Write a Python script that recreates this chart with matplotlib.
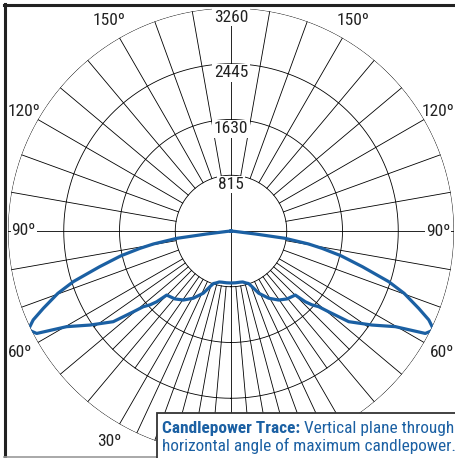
import numpy as np
import matplotlib.pyplot as plt
from matplotlib import font_manager
from matplotlib.patches import Rectangle
from matplotlib.lines import Line2D

# Candlepower trace, left half: vertical angle from nadir (deg) and candela
angles = [0, 5, 10, 13, 16, 18.5, 20.7, 24, 29.3, 34.6, 39.5, 45.1, 46.4, 47.6,
          49.2, 50.4, 52.4, 56.3, 59.8, 62.2, 64, 65.8, 67.6, 70.2, 72.2, 74.8,
          77.3, 79.2, 80.5, 82.3, 83, 84, 85]
candela = [760, 760, 760, 765, 790, 810, 870, 995, 1127, 1226, 1287, 1327, 1500, 1600,
           1694, 1853, 2173, 2478, 2780, 3211, 3298, 3170, 2968, 2690, 2421, 1990,
           1650, 1355, 1150, 800, 360, 60, 0]

rings = [815, 1630, 2445, 3260]
ring_labels = ['815', '1630', '2445', '3260']
angle_ticks = [30, 60, 90, 120, 150]

blue = '#1b60a3'
names = {f.name for f in font_manager.fontManager.ttflist}
narrow = None
for cand in ['Liberation Sans Narrow', 'Roboto Condensed', 'Open Sans Condensed']:
    if cand in names:
        narrow = cand
        break
if narrow:
    plt.rcParams['font.family'] = [narrow, 'DejaVu Sans']
    fs_ang, fs_ring, fs_cap = 12.5, 12.5, 12.4
else:
    plt.rcParams['font.family'] = ['Liberation Sans', 'DejaVu Sans']
    fs_ang, fs_ring, fs_cap = 11, 12, 10.6

fig = plt.figure(figsize=(4.56, 4.58), dpi=100)
ax = fig.add_axes([8/456, 4/458, 446/456, 446/458], projection='polar')
ax.set_theta_zero_location('S')
ax.set_theta_direction(-1)
ax.set_ylim(0, rings[-1])
ax.axis('off')

# grid circles
th = np.radians(np.linspace(0, 360, 721))
for r in rings:
    ax.plot(th, np.full_like(th, r), color='k', lw=0.6)

# radial lines every 10 deg, extra 5 deg lines in the lower half
for a in range(0, 360, 10):
    r0 = 0 if a % 90 == 0 else rings[0]
    ax.plot([np.radians(a)]*2, [r0, rings[-1]], color='k', lw=0.6)
for a in range(5, 60, 10):
    r1 = rings[-1] if a < 30 else rings[2]
    for s in (1, -1):
        ax.plot([np.radians(s*a)]*2, [rings[0], r1], color='k', lw=0.6)

# the trace, mirrored about nadir
a_arr = np.array(angles)
c_arr = np.array(candela)
theta = np.radians(np.concatenate([-a_arr[::-1], a_arr[1:]]))
cd = np.concatenate([c_arr[::-1], c_arr[1:]])
ax.plot(theta, cd, color=blue, lw=2.3, solid_joinstyle='round', zorder=5)

# ring labels on the vertical line
for r, lab in zip(rings, ring_labels):
    ax.text(np.pi, r - 135, lab, ha='center', va='center', fontsize=fs_ring, color='#222',
            bbox=dict(fc='white', ec='none', pad=1.0), zorder=6)

# angle labels
for a in angle_ticks:
    for s in (1, -1):
        if a == 90:
            ax.text(np.radians(s*a), 3030, '%dº' % a, ha='center', va='center', fontsize=fs_ang,
                    color='#222', bbox=dict(fc='white', ec='none', pad=0.5), zorder=6)
        else:
            rr = 3500 if a == 120 else 3560
            ax.text(np.radians(s*a), rr, '%dº' % a, ha='center', va='center', fontsize=fs_ang,
                    color='#222', clip_on=False, zorder=6)

# frame and caption box in figure pixels
ov = fig.add_axes([0, 0, 1, 1])
ov.set_xlim(0, 456)
ov.set_ylim(458, 0)
ov.axis('off')
ov.add_line(Line2D([5, 5], [4, 458], color='#222', lw=2.2))
ov.add_line(Line2D([4, 456], [5, 5], color='#222', lw=2.2))
ov.add_line(Line2D([4, 456], [456.5, 456.5], color='#999', lw=1.2))
ov.add_patch(Rectangle((157, 413), 310, 60, fc='white', ec='#333', lw=1.3, zorder=7))
t1 = ov.text(162, 428, 'Candlepower Trace:', fontsize=fs_cap, weight='bold', color=blue,
             va='center', ha='left', zorder=8)
ov.annotate(' Vertical plane through', xy=(1, 0), xycoords=t1, va='bottom', ha='left',
            fontsize=fs_cap, color=blue, zorder=8)
ov.text(162, 446, 'horizontal angle of maximum candlepower.', fontsize=fs_cap, color=blue,
        va='center', ha='left', zorder=8)

fig.savefig('out.png', dpi=100)
